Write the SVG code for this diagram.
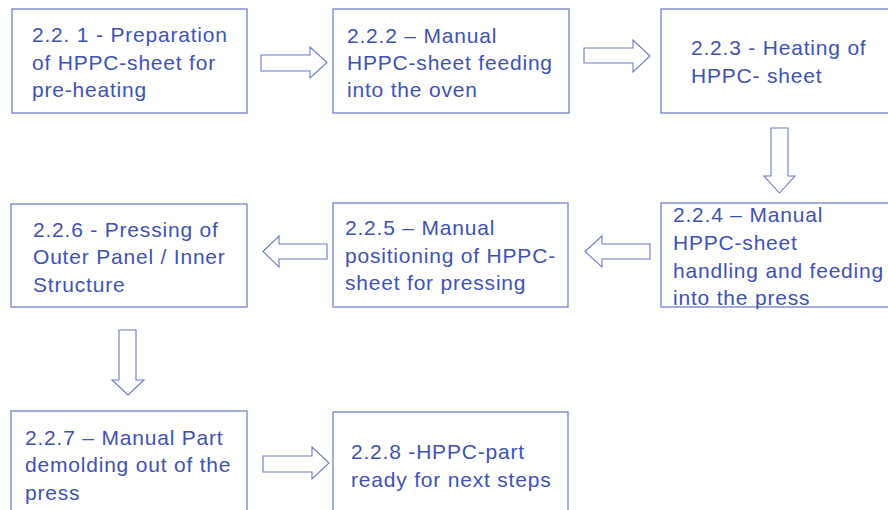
<svg xmlns="http://www.w3.org/2000/svg" width="888" height="510" viewBox="0 0 888 510">
  <style>
    .box { fill: #ffffff; stroke: #7383cc; stroke-width: 1.3; }
    .arrow { fill: #ffffff; stroke: #6a7bc8; stroke-width: 1.1; stroke-linejoin: miter; }
    .label { font-family: "Liberation Sans", Arial, sans-serif; font-size: 21px; fill: #3f52b4; letter-spacing: 0.8px; }
  </style>
  <rect width="888" height="510" fill="#ffffff"/>

  <g id="connectors">
    <polygon class="arrow" points="261,55 310,55 310,47 327,62.5 310,78 310,71 261,71"/>
    <polygon class="arrow" points="584,48 633,48 633,40 650,56 633,72 633,63 584,63"/>
    <polygon class="arrow" points="771,128 788,128 788,176 795,176 779.5,193 764,176 771,176"/>
    <polygon class="arrow" points="585,251.5 602,236 602,244 650,244 650,259 602,259 602,267"/>
    <polygon class="arrow" points="263,251.5 279,236 279,244 327,244 327,259 279,259 279,267"/>
    <polygon class="arrow" points="119,330 136,330 136,380 144,380 128,395 112,380 119,380"/>
    <polygon class="arrow" points="263,456 312,456 312,447 329,463 312,479 312,472 263,472"/>
  </g>

  <g id="step-2-2-1">
    <rect class="box" x="12" y="9" width="235" height="104"/>
    <text class="label" x="32" y="42">2.2. 1 - Preparation</text>
    <text class="label" x="32" y="70">of HPPC-sheet for</text>
    <text class="label" x="32" y="97">pre-heating</text>
  </g>

  <g id="step-2-2-2">
    <rect class="box" x="333" y="9" width="236" height="104"/>
    <text class="label" x="347" y="43">2.2.2 – Manual</text>
    <text class="label" x="347" y="70">HPPC-sheet feeding</text>
    <text class="label" x="347" y="97">into the oven</text>
  </g>

  <g id="step-2-2-3">
    <rect class="box" x="661" y="9" width="240" height="104"/>
    <text class="label" x="691" y="55">2.2.3 - Heating of</text>
    <text class="label" x="691" y="83">HPPC- sheet</text>
  </g>

  <g id="step-2-2-4">
    <rect class="box" x="661" y="203" width="240" height="104"/>
    <text class="label" x="673" y="222">2.2.4 – Manual</text>
    <text class="label" x="673" y="250">HPPC-sheet</text>
    <text class="label" x="673" y="278">handling and feeding</text>
    <text class="label" x="673" y="305">into the press</text>
  </g>

  <g id="step-2-2-5">
    <rect class="box" x="333" y="203" width="235" height="104"/>
    <text class="label" x="345" y="235">2.2.5 – Manual</text>
    <text class="label" x="345" y="263">positioning of HPPC-</text>
    <text class="label" x="345" y="290">sheet for pressing</text>
  </g>

  <g id="step-2-2-6">
    <rect class="box" x="11" y="204" width="236" height="103"/>
    <text class="label" x="33" y="237">2.2.6 - Pressing of</text>
    <text class="label" x="33" y="264">Outer Panel / Inner</text>
    <text class="label" x="33" y="292">Structure</text>
  </g>

  <g id="step-2-2-7">
    <rect class="box" x="11" y="411" width="236" height="120"/>
    <text class="label" x="25" y="445">2.2.7 – Manual Part</text>
    <text class="label" x="25" y="472">demolding out of the</text>
    <text class="label" x="25" y="500">press</text>
  </g>

  <g id="step-2-2-8">
    <rect class="box" x="333" y="412" width="235" height="120"/>
    <text class="label" x="351" y="459">2.2.8 -HPPC-part</text>
    <text class="label" x="351" y="487">ready for next steps</text>
  </g>
</svg>
